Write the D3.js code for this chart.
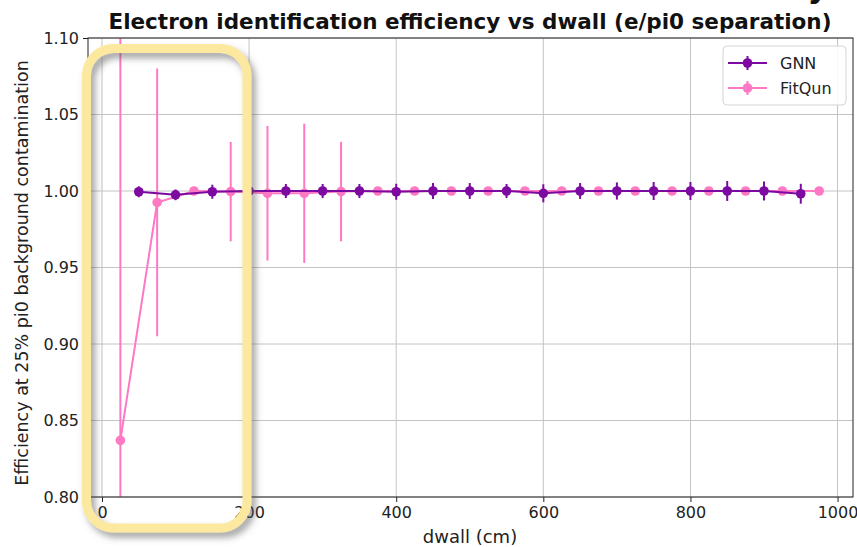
<!DOCTYPE html>
<html>
<head>
<meta charset="utf-8">
<script src="https://cdn.jsdelivr.net/npm/d3@7"></script>
<style>
  body { margin: 0; background: #fff; }
  svg { display: block; }
  text { font-family: "DejaVu Sans", sans-serif; }
</style>
</head>
<body>
<svg id="chart" width="857" height="547"></svg>
<script>
// Axis ticks
const xTicks = [0, 200, 400, 600, 800, 1000];
const yTicks = [0.80, 0.85, 0.90, 0.95, 1.00, 1.05, 1.10];

// GNN: efficiency per dwall bin with uncertainty
const gnnDwall = [50, 100, 150, 200, 250, 300, 350, 400, 450, 500, 550, 600, 650, 700, 750, 800, 850, 900, 950];
const gnnEff   = [0.9995, 0.9975, 0.9995, 1.0000, 1.0000, 1.0000, 1.0000, 0.9995, 1.0000, 1.0000,
                  1.0000, 0.9985, 1.0000, 1.0000, 1.0000, 1.0000, 1.0000, 1.0000, 0.9982];
const gnnErr   = [0.0036, 0.0035, 0.0046, 0.0040, 0.0046, 0.0046, 0.0046, 0.0052, 0.0052, 0.0052,
                  0.0046, 0.0059, 0.0052, 0.0056, 0.0059, 0.0059, 0.0065, 0.0062, 0.0065];

// FitQun: efficiency per dwall bin with uncertainty
const fitqunDwall = [25, 75, 125, 175, 225, 275, 325, 375, 425, 475, 525, 575, 625, 675, 725, 775, 825, 875, 925, 975];
const fitqunEff   = [0.837, 0.9925, 1.0000, 0.9996, 0.9985, 0.9985, 0.9996, 1.0000, 1.0000, 1.0000,
                     1.0000, 1.0000, 1.0000, 1.0000, 1.0000, 1.0000, 1.0000, 1.0000, 1.0000, 1.0000];
const fitqunErr   = [0.300, 0.0875, 0, 0.0325, 0.0440, 0.0455, 0.0325, 0, 0, 0,
                     0, 0, 0, 0, 0, 0, 0, 0, 0, 0];

const seriesList = [
  { name: "FitQun", color: "#ff78c4", xs: fitqunDwall, ys: fitqunEff, es: fitqunErr },
  { name: "GNN",    color: "#7d0aa0", xs: gnnDwall,    ys: gnnEff,    es: gnnErr }
];
const legendOrder = ["GNN", "FitQun"];

const svg = d3.select("#chart");
const plot = { left: 88, right: 853, top: 38, bottom: 497 };

const x = d3.scaleLinear().domain([-19, 1021]).range([plot.left, plot.right]);
const y = d3.scaleLinear().domain([0.80, 1.10]).range([plot.bottom, plot.top]);

// Drop shadow used by the highlight frame
const defs = svg.append("defs");
const shadow = defs.append("filter").attr("id", "soft-shadow")
  .attr("x", "-20%").attr("y", "-10%").attr("width", "140%").attr("height", "120%");
shadow.append("feDropShadow").attr("dx", 4).attr("dy", 5).attr("stdDeviation", 3.5)
  .attr("flood-color", "#555").attr("flood-opacity", 0.55);
defs.append("clipPath").attr("id", "plot-clip").append("rect")
  .attr("x", plot.left).attr("y", plot.top)
  .attr("width", plot.right - plot.left).attr("height", plot.bottom - plot.top);

// Grid
const grid = svg.append("g").attr("stroke", "#c4c4c4").attr("stroke-width", 1);
grid.selectAll("line.gx").data(xTicks).join("line").attr("class", "gx")
  .attr("x1", d => x(d)).attr("x2", d => x(d)).attr("y1", plot.top).attr("y2", plot.bottom);
grid.selectAll("line.gy").data(yTicks).join("line").attr("class", "gy")
  .attr("x1", plot.left).attr("x2", plot.right).attr("y1", d => y(d)).attr("y2", d => y(d));

// Data series
const dataLayer = svg.append("g").attr("clip-path", "url(#plot-clip)");
seriesList.forEach(s => {
  const pts = s.xs.map((xv, i) => ({ x: xv, y: s.ys[i], e: s.es[i] }));
  const g = dataLayer.append("g");
  g.selectAll("line.err").data(pts.filter(p => p.e > 0)).join("line").attr("class", "err")
    .attr("x1", p => x(p.x)).attr("x2", p => x(p.x))
    .attr("y1", p => y(p.y - p.e)).attr("y2", p => y(p.y + p.e))
    .attr("stroke", s.color).attr("stroke-width", 2);
  g.append("path").datum(pts)
    .attr("d", d3.line().x(p => x(p.x)).y(p => y(p.y)))
    .attr("fill", "none").attr("stroke", s.color).attr("stroke-width", 2);
  g.selectAll("circle").data(pts).join("circle")
    .attr("cx", p => x(p.x)).attr("cy", p => y(p.y)).attr("r", 4.8)
    .attr("fill", s.color);
});

// Frame
svg.append("rect")
  .attr("x", plot.left).attr("y", plot.top)
  .attr("width", plot.right - plot.left).attr("height", plot.bottom - plot.top)
  .attr("fill", "none").attr("stroke", "#222").attr("stroke-width", 1);

// Axes
const xAxis = svg.append("g").attr("transform", `translate(0,${plot.bottom})`)
  .call(d3.axisBottom(x).tickValues(xTicks).tickSize(5).tickPadding(5).tickFormat(d3.format("d")));
const yAxis = svg.append("g").attr("transform", `translate(${plot.left},0)`)
  .call(d3.axisLeft(y).tickValues(yTicks).tickSize(5).tickPadding(4).tickFormat(d3.format(".2f")));
[xAxis, yAxis].forEach(a => {
  a.select(".domain").remove();
  a.selectAll(".tick line").attr("stroke", "#222");
  a.selectAll(".tick text").attr("font-family", "DejaVu Sans").attr("font-size", 16).attr("fill", "#222");
});

// Titles
svg.append("text").attr("x", 470).attr("y", 29).attr("text-anchor", "middle")
  .attr("font-size", 21.5).attr("font-weight", "bold").attr("fill", "#111")
  .text("Electron identification efficiency vs dwall (e/pi0 separation)");
svg.append("text").attr("x", 470).attr("y", 543).attr("text-anchor", "middle")
  .attr("font-size", 18).attr("fill", "#222").text("dwall (cm)");
svg.append("text").attr("transform", `translate(28,273) rotate(-90)`)
  .attr("text-anchor", "middle").attr("font-size", 17.5).attr("fill", "#222")
  .text("Efficiency at 25% pi0 background contamination");

// Legend
const legend = svg.append("g").attr("transform", "translate(723,46)");
legend.append("rect").attr("width", 123).attr("height", 59).attr("rx", 4)
  .attr("fill", "#fff").attr("fill-opacity", 0.85).attr("stroke", "#d4d4d4");
legendOrder.forEach((name, i) => {
  const s = seriesList.find(d => d.name === name);
  const row = legend.append("g").attr("transform", `translate(0,${17 + i * 25})`);
  row.append("line").attr("x1", 5).attr("x2", 44).attr("stroke", s.color).attr("stroke-width", 2);
  row.append("line").attr("x1", 24.5).attr("x2", 24.5).attr("y1", -7).attr("y2", 7)
    .attr("stroke", s.color).attr("stroke-width", 2);
  row.append("circle").attr("cx", 24.5).attr("r", 4.8).attr("fill", s.color);
  row.append("text").attr("x", 57).attr("y", 6).attr("font-size", 16).attr("fill", "#222").text(name);
});

// Highlight frame around the low-dwall region
svg.append("rect")
  .attr("x", 86.5).attr("y", 48.5).attr("width", 160.5).attr("height", 479.5).attr("rx", 27)
  .attr("fill", "none").attr("stroke", "#fde8a0").attr("stroke-width", 9)
  .attr("filter", "url(#soft-shadow)");

// Descender of the heading above the chart
svg.append("text").attr("x", 818).attr("y", -3).attr("text-anchor", "middle")
  .attr("font-size", 32).attr("font-weight", "bold").attr("fill", "#111").text("y");
</script>
</body>
</html>
